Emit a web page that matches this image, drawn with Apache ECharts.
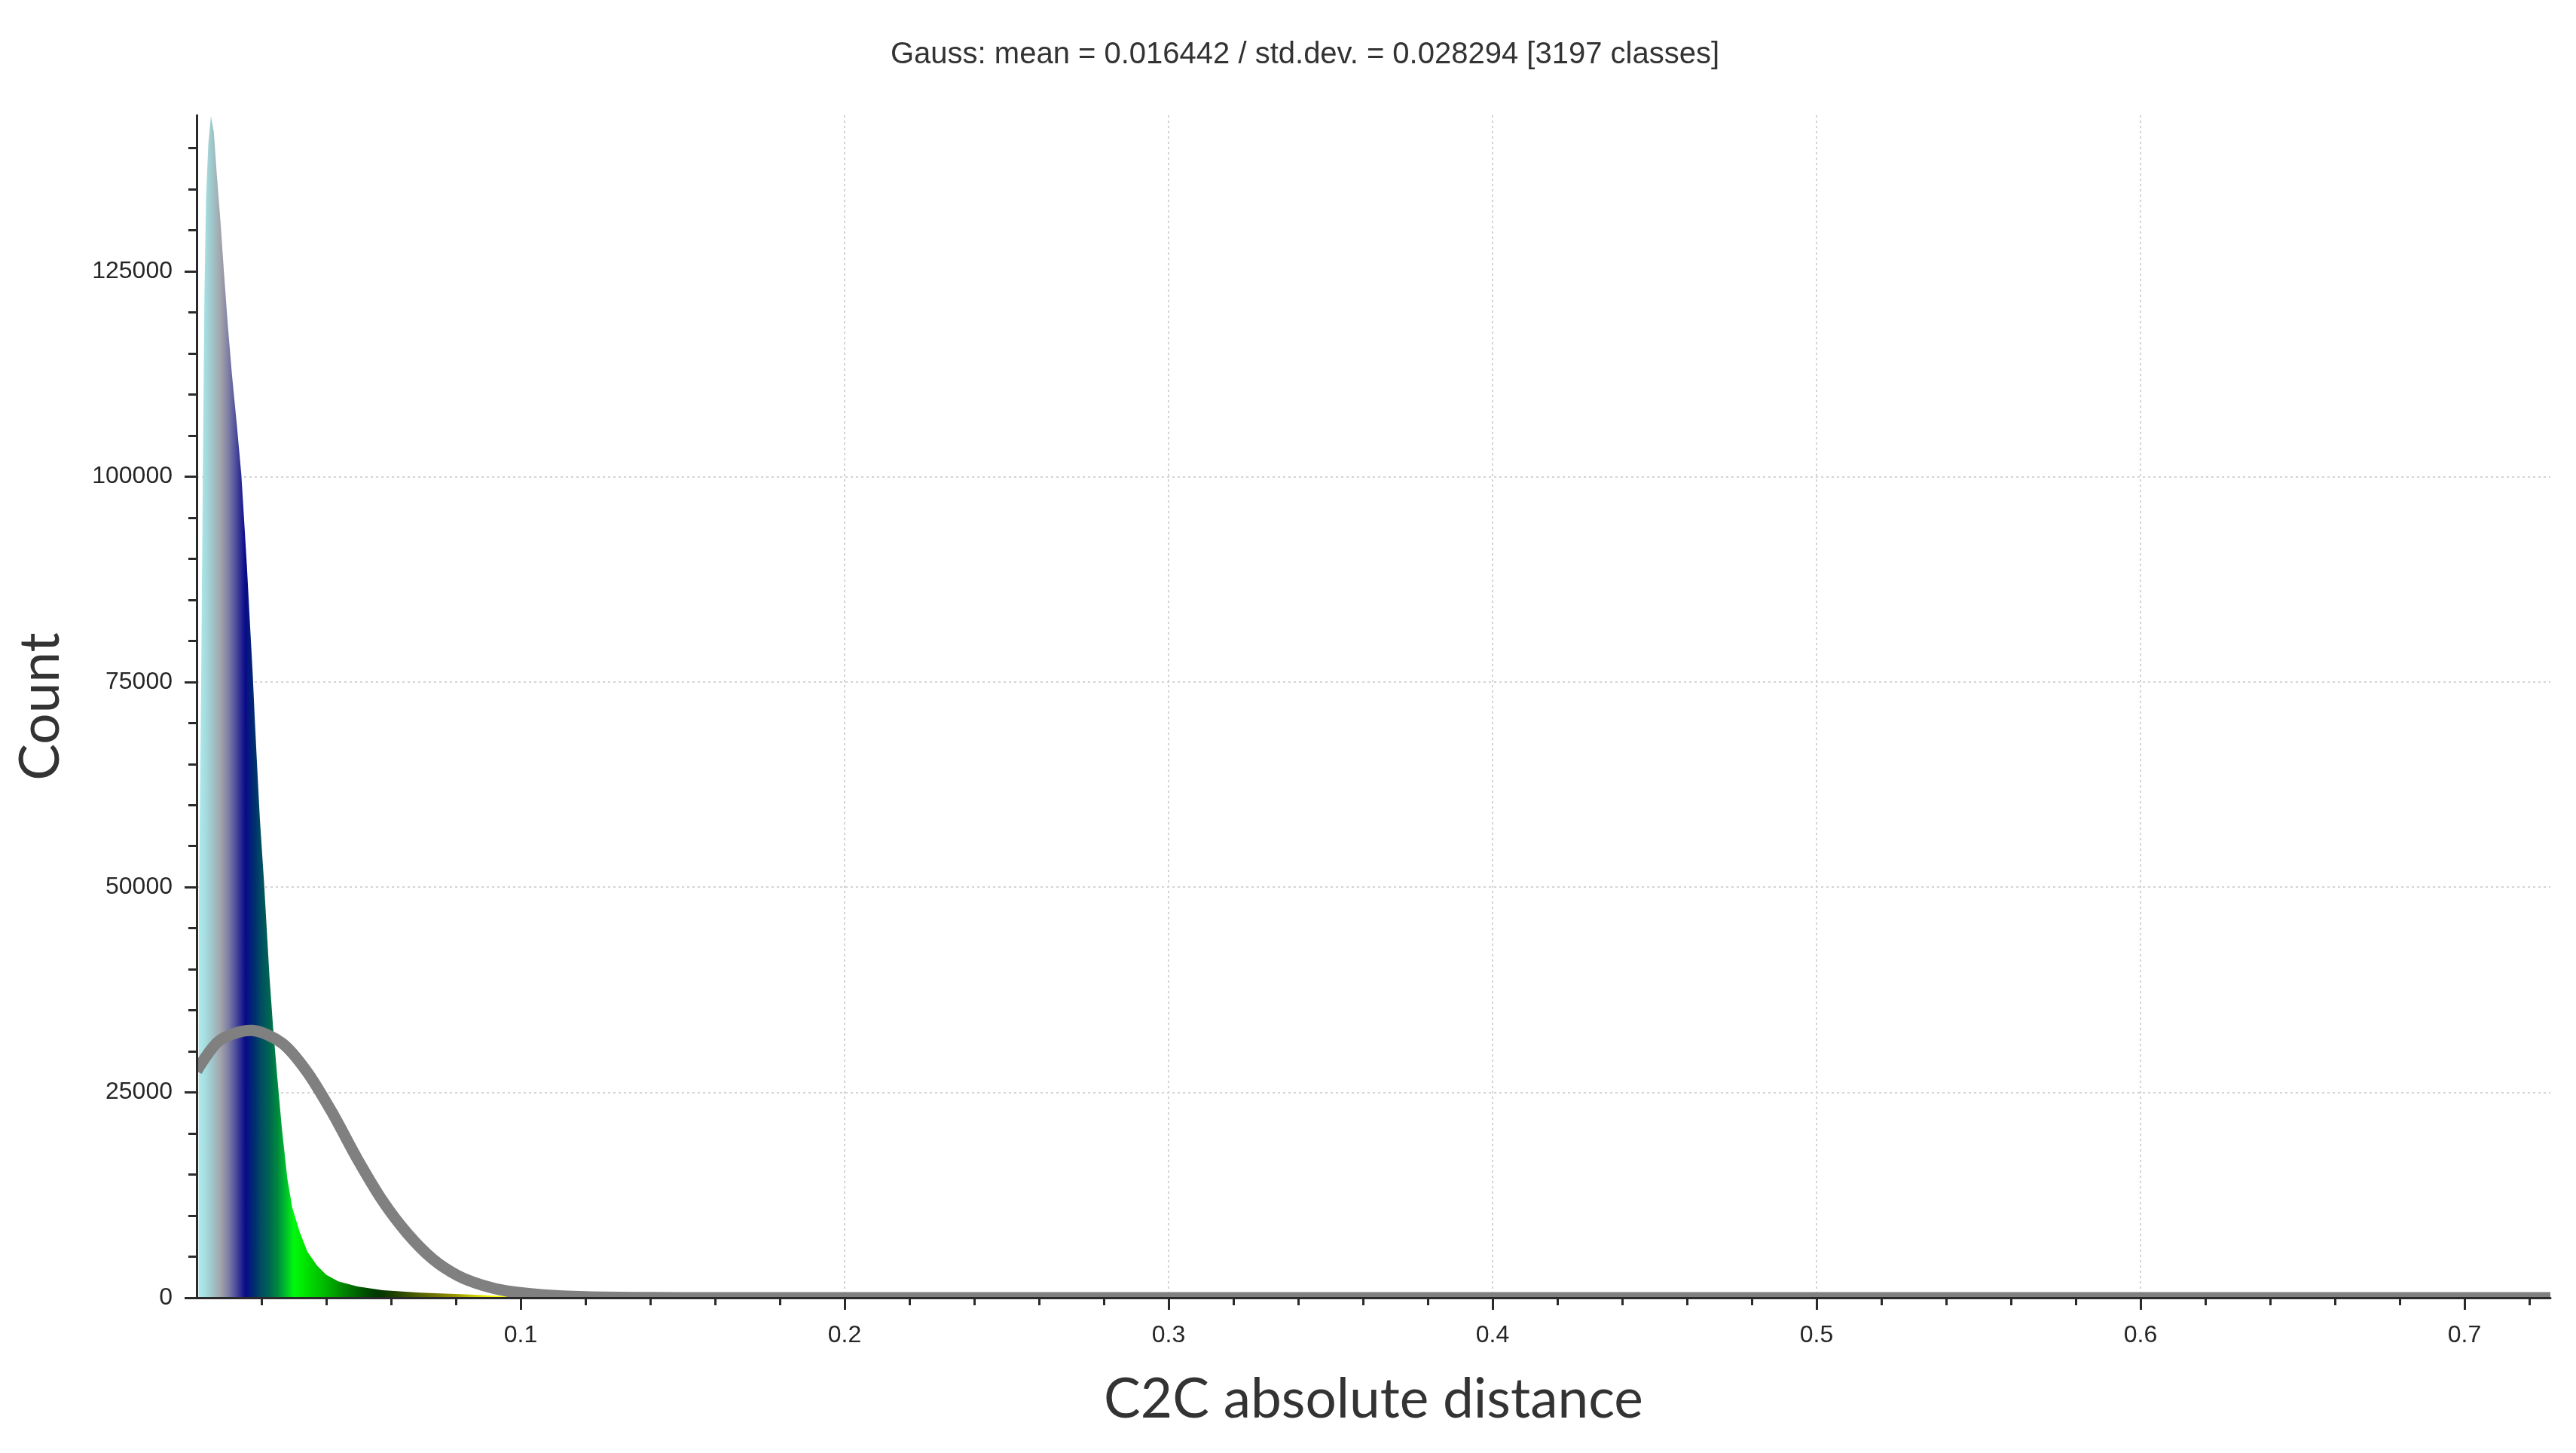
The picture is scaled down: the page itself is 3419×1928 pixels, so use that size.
<!DOCTYPE html>
<html><head><meta charset="utf-8">
<script src="https://cdn.jsdelivr.net/npm/echarts@6/dist/echarts.min.js"></script>
<style>html,body{margin:0;padding:0;background:#fff;} #c{width:3419px;height:1928px;}</style>
</head><body><div id="c"></div>
<script>
const titleText = 'Gauss: mean = 0.016442 / std.dev. = 0.028294 [3197 classes]';
const xName = 'C2C absolute distance';
const yName = 'Count';
const xMin = 0, xMax = 0.7265, yMin = 0, yMax = 144000;
const xTicks = [0.1, 0.2, 0.3, 0.4, 0.5, 0.6, 0.7];
const xMinorTicks = [0.02, 0.04, 0.06, 0.08, 0.12, 0.14, 0.16, 0.18, 0.22, 0.24, 0.26, 0.28,
  0.32, 0.34, 0.36, 0.38, 0.42, 0.44, 0.46, 0.48, 0.52, 0.54, 0.56, 0.58, 0.62, 0.64, 0.66, 0.68, 0.72];
const yTicks = [0, 25000, 50000, 75000, 100000, 125000];
const yMinorTicks = [5000, 10000, 15000, 20000, 30000, 35000, 40000, 45000, 55000, 60000, 65000, 70000,
  80000, 85000, 90000, 95000, 105000, 110000, 115000, 120000, 130000, 135000, 140000];

// histogram outline (class value -> count)
const histX = [0.0006, 0.0007, 0.0014, 0.0019, 0.0024, 0.0029, 0.0036, 0.0044, 0.0053, 0.0062, 0.0074,
  0.0084, 0.0096, 0.0109, 0.0124, 0.0138, 0.0155, 0.0164, 0.0173, 0.0180, 0.0187, 0.0195, 0.0208,
  0.0216, 0.0225, 0.0236, 0.0249, 0.0263, 0.0280, 0.0295, 0.0318, 0.0342, 0.0372, 0.0400, 0.0437,
  0.0496, 0.0574, 0.0690, 0.0845, 0.0920, 0.1000, 0.1100, 0.1300, 0.1600, 0.2000, 0.7265];
const histY = [0, 48000, 75000, 100000, 122000, 134000, 140500, 143900, 142000, 136900, 130800,
  125000, 118500, 112400, 106300, 100200, 89200, 82500, 76000, 70000, 64500, 58400, 50600,
  45100, 39000, 32900, 26800, 20650, 14500, 11000, 8000, 5600, 3900, 2800, 2000,
  1380, 920, 615, 400, 250, 130, 70, 30, 10, 0, 0];

// fitted Gauss curve
const gaussX = [0.0000, 0.0070, 0.0170, 0.0264, 0.0341, 0.0419, 0.0496, 0.0574, 0.0651, 0.0729,
  0.0806, 0.0884, 0.0960, 0.1070, 0.1200, 0.1400, 0.1600, 0.7265];
const gaussY = [27600, 31300, 32550, 31000, 27500, 22500, 16900, 11800, 7800, 4700,
  2700, 1500, 800, 350, 120, 20, 0, 0];

// colour scale along the distance axis (0 .. 0.1, step 0.0025)
const fillColors = ['#b0eef0', '#a6dfe2', '#a0c4c8', '#a2a2aa', '#7a7aa4', '#44449a', '#0a0a8a', '#002a72',
  '#004e62', '#006650', '#008a3e', '#00c02a', '#00f810', '#00ec00', '#00d800', '#00c800', '#00b400',
  '#00a000', '#008800', '#007400', '#006000', '#004c00', '#003c00', '#083800', '#183e00', '#284800',
  '#385200', '#485c00', '#586600', '#687000', '#787c00', '#888800', '#9a9800', '#b0b000', '#c4c800',
  '#d8dc00', '#ecf000', '#ffff00', '#ffff00', '#ffff00', '#ffff00'];

const labelFont = 'Liberation Sans, Arial, sans-serif';
const nameFont = 'Lato, Open Sans, sans-serif';
const axisColor = '#2a2a2a';
const gridStyle = {color: '#d4d4d4', width: 2, type: [3, 4]};

const chart = echarts.init(document.getElementById('c'), null, {renderer: 'canvas'});
chart.setOption({
  animation: false,
  backgroundColor: '#ffffff',
  title: {
    text: titleText, left: 1177, top: 48,
    textStyle: {fontFamily: labelFont, fontSize: 40, fontWeight: 'normal', color: '#333333'}
  },
  grid: {left: 261, right: 34, top: 153, bottom: 206, containLabel: false},
  visualMap: [{
    type: 'continuous', show: false, seriesIndex: 0, dimension: 0,
    min: 0, max: 0.1, inRange: {color: fillColors}, outOfRange: {color: '#ffff00'}
  }],
  xAxis: [{
    type: 'value', min: xMin, max: xMax, interval: 0.1, position: 'bottom', z: 0,
    axisLine: {show: false, onZero: false},
    axisTick: {show: true, customValues: xTicks, length: 16, lineStyle: {color: axisColor, width: 3}},
    axisLabel: {customValues: xTicks, margin: 34, fontFamily: labelFont, fontSize: 32, color: '#262626',
      formatter: v => String(v)},
    splitLine: {show: true, showMinLine: false, showMaxLine: false, lineStyle: gridStyle},
    name: xName, nameLocation: 'middle', nameGap: 99,
    nameTextStyle: {fontFamily: nameFont, fontSize: 73, color: '#333333'}
  }, {
    type: 'value', min: xMin, max: xMax, position: 'bottom', offset: 0, z: 10,
    axisLine: {show: true, onZero: false, lineStyle: {color: axisColor, width: 3}},
    axisTick: {show: true, customValues: xMinorTicks, length: 10, lineStyle: {color: axisColor, width: 3}},
    axisLabel: {show: false}, splitLine: {show: false}
  }],
  yAxis: [{
    type: 'value', min: yMin, max: yMax, interval: 25000, position: 'left', z: 0,
    axisLine: {show: false, onZero: false},
    axisTick: {show: true, customValues: yTicks, length: 16, lineStyle: {color: axisColor, width: 3}},
    axisLabel: {customValues: yTicks, margin: 32, fontFamily: labelFont, fontSize: 32, color: '#262626',
      formatter: v => String(v)},
    splitLine: {show: true, showMinLine: false, showMaxLine: false, lineStyle: gridStyle},
    name: yName, nameLocation: 'middle', nameGap: 170,
    nameTextStyle: {fontFamily: nameFont, fontSize: 73, color: '#333333'}
  }, {
    type: 'value', min: yMin, max: yMax, position: 'left', offset: 0, z: 10,
    axisLine: {show: true, onZero: false, lineStyle: {color: axisColor, width: 3}},
    axisTick: {show: true, customValues: yMinorTicks, length: 11, lineStyle: {color: axisColor, width: 3}},
    axisLabel: {show: false}, splitLine: {show: false}
  }],
  series: [{
    name: 'histogram', type: 'line', xAxisIndex: 0, yAxisIndex: 0, z: 2,
    data: histX.map((x, i) => [x, histY[i]]),
    showSymbol: false, symbol: 'none', smooth: false, silent: true,
    lineStyle: {width: 0},
    areaStyle: {opacity: 1}
  }, {
    name: 'gauss', type: 'custom', xAxisIndex: 0, yAxisIndex: 0, z: 3, clip: true, silent: true,
    data: gaussX.map((x, i) => [x, gaussY[i]]),
    renderItem: function (params, api) {
      if (params.dataIndex !== 0) return null;
      const pts = gaussX.map((x, i) => api.coord([x, gaussY[i]]));
      return {
        type: 'polyline',
        shape: {points: pts, smooth: 0.3},
        style: {stroke: '#808080', lineWidth: 15, fill: null, lineJoin: 'round'}
      };
    }
  }]
});
</script>
</body></html>
